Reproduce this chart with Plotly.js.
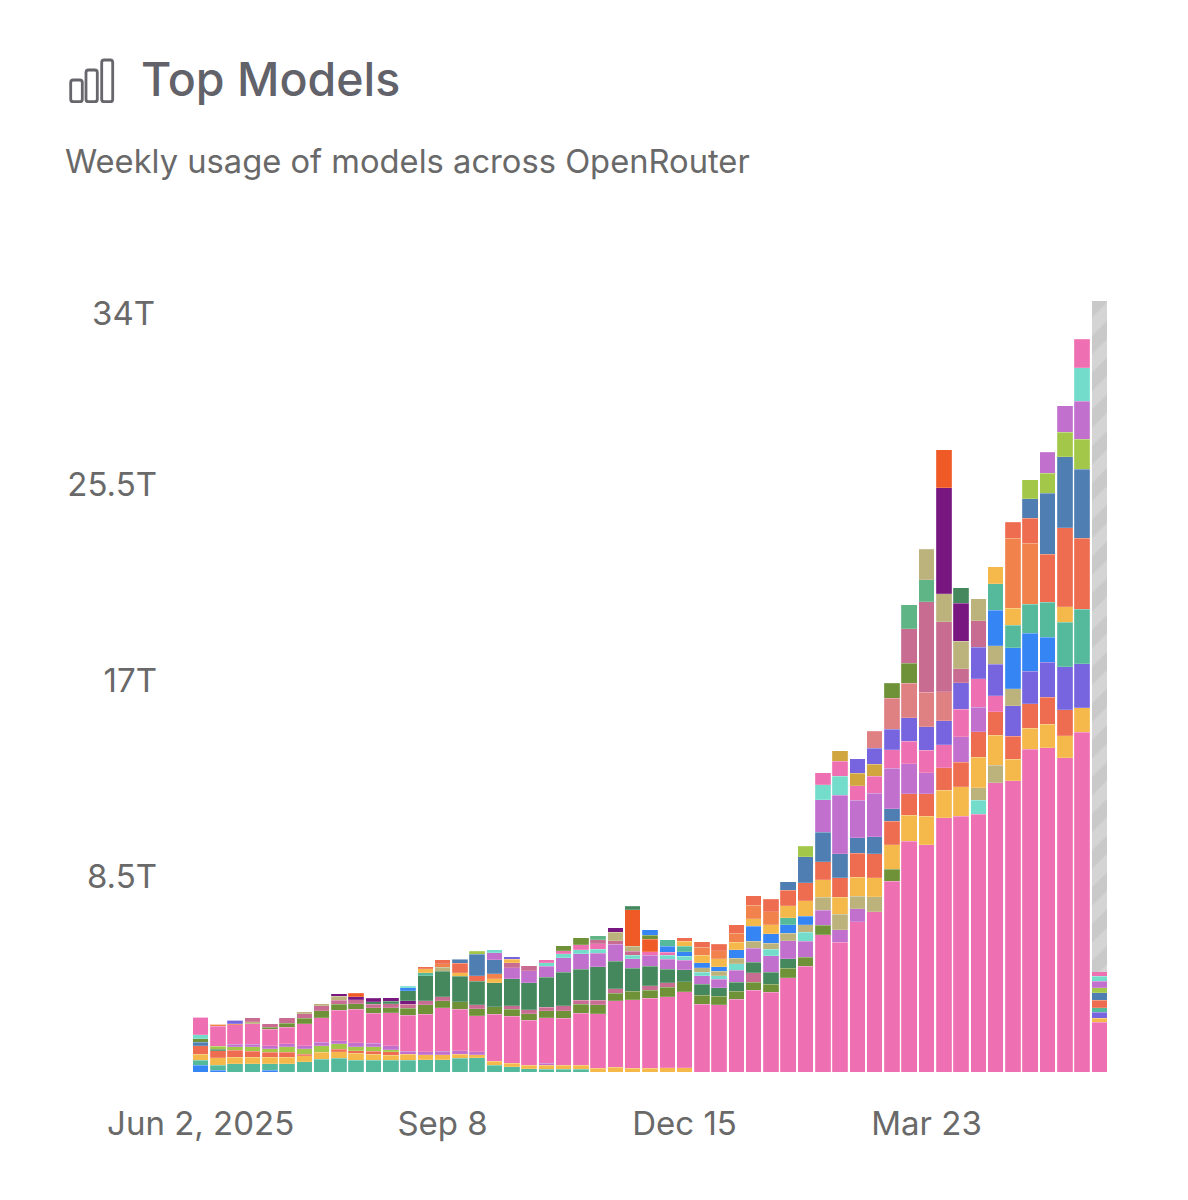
<!DOCTYPE html>
<html>
<head>
<meta charset="utf-8">
<script src="https://cdn.plot.ly/plotly-3.0.1.min.js"></script>
<style>html,body{margin:0;padding:0;background:#fff}#chart{width:1188px;height:1200px}</style>
</head>
<body>
<div id="chart"></div>
<script>
const chartTitle = "Top Models";
const chartSubtitle = "Weekly usage of models across OpenRouter";
const xTickDates = ["2025-06-02", "2025-09-08", "2025-12-15", "2026-03-23"];
const xTickLabels = ["Jun 2, 2025", "Sep 8", "Dec 15", "Mar 23"];
const yTickValues = [8.5, 17, 25.5];
const yTickLabels = ["8.5T", "17T", "25.5T"];
const yTopLabel = "34T";
const yMax = 34;

// One colour per model family, keyed by a letter
const palette = {
  P:"#EE70B2", T:"#55BA9C", Y:"#F5B94B", C:"#EE6C4F", S:"#4F7FB2", V:"#7765DF",
  O:"#C270CD", N:"#BBB27C", L:"#6F9138", G:"#46885E", M:"#C86C92", A:"#DF8083",
  I:"#74DCCB", B:"#3585F5", H:"#A3C749", R:"#F1824C", D:"#D2A63F", X:"#78177F",
  F:"#F05A26", E:"#5FB585"
};

// Weekly stacks, bottom to top: model letter, value in trillions of tokens
const w00=["B",.30,"T",.22,"Y",.25,"C",.36,"S",.16,"L",.16,"I",.16,"P",.77];
const w01=["B",.07,"T",.23,"Y",.32,"C",.30,"G",.07,"H",.13,"P",.87,"R",.09];
const w02=["T",.36,"Y",.27,"C",.32,"H",.14,"O",.12,"P",.84,"R",.04,"V",.16];
const w03=["T",.36,"Y",.27,"C",.27,"H",.19,"O",.12,"P",.88,"N",.09,"M",.17];
const w04=["B",.07,"T",.29,"Y",.29,"C",.20,"H",.17,"O",.12,"P",.72,"L",.09,"M",.14];
const w05=["T",.36,"Y",.27,"C",.23,"H",.23,"O",.14,"P",.72,"L",.17,"M",.23];
const w06=["T",.45,"Y",.26,"C",.07,"H",.22,"O",.13,"P",.96,"L",.25,"M",.20,"N",.07];
const w07=["T",.56,"Y",.29,"H",.30,"O",.14,"P",1.06,"L",.30,"M",.23,"N",.09];
const w08=["T",.59,"Y",.29,"C",.10,"H",.25,"O",.13,"P",1.32,"L",.27,"M",.17,"N",.16,"X",.12];
const w09=["T",.51,"Y",.30,"C",.12,"H",.16,"O",.19,"P",1.45,"L",.23,"M",.17,"X",.13,"F",.17];
const w10=["T",.51,"Y",.26,"C",.13,"H",.19,"O",.16,"P",1.30,"L",.23,"M",.17,"G",.09,"X",.16];
const w11=["T",.51,"Y",.22,"C",.14,"H",.10,"O",.16,"P",1.45,"L",.22,"M",.16,"G",.12,"X",.14];
const w12=["T",.52,"Y",.25,"O",.14,"P",1.55,"L",.30,"M",.19,"X",.14,"G",.43,"B",.14,"I",.06];
const w13=["T",.54,"Y",.20,"O",.14,"P",1.62,"L",.42,"M",.17,"G",1.09,"T",.13,"Y",.17,"C",.10];
const w14=["T",.54,"Y",.22,"O",.14,"P",1.88,"L",.32,"M",.16,"G",1.11,"N",.17,"R",.17,"C",.17];
const w15=["T",.59,"Y",.19,"O",.14,"P",1.81,"L",.32,"G",1.11,"Y",.14,"C",.43,"S",.16];
const w16=["T",.61,"Y",.14,"O",.14,"P",1.56,"L",.30,"M",.16,"G",1.04,"C",.23,"S",.93,"H",.14];
const w17=["T",.30,"Y",.17,"P",2.04,"L",.33,"G",1.03,"Y",.19,"R",.20,"S",.62,"O",.30,"I",.13];
const w18=["T",.23,"Y",.16,"P",2.03,"L",.30,"M",.16,"G",1.16,"O",.48,"M",.23,"Y",.14,"V",.12];
const w19=["T",.14,"Y",.16,"P",1.95,"L",.27,"M",.19,"G",1.16,"O",.52,"M",.23];
const w20=["T",.13,"Y",.17,"O",.09,"P",1.97,"L",.29,"M",.17,"G",1.29,"O",.48,"I",.16,"P",.13];
const w21=["T",.13,"Y",.16,"P",2.04,"L",.33,"M",.22,"G",1.46,"O",.62,"I",.17,"P",.14,"L",.22];
const w22=["T",.13,"Y",.16,"P",2.26,"L",.39,"M",.17,"G",1.36,"O",.67,"I",.16,"P",.22,"L",.30];
const w23=["Y",.17,"P",2.37,"L",.38,"M",.19,"G",1.45,"O",.59,"I",.19,"P",.22,"M",.19,"E",.17];
const w24=["Y",.20,"P",2.89,"L",.33,"M",.19,"G",1.20,"O",.74,"M",.14,"N",.38,"X",.20];
const w25=["Y",.16,"P",2.97,"L",.38,"G",1.00,"O",.41,"I",.16,"M",.16,"N",.23,"F",1.58,"G",.14];
const w26=["Y",.16,"P",3.04,"L",.36,"M",.19,"G",.85,"O",.46,"P",.17,"F",.54,"L",.17,"B",.23];
const w27=["Y",.19,"P",3.08,"L",.41,"M",.20,"G",.59,"O",.42,"I",.17,"P",.14,"B",.25,"T",.30];
const w28=["Y",.19,"P",3.30,"L",.43,"G",.51,"O",.42,"I",.17,"B",.20,"T",.23,"Y",.22,"C",.17];
const w29=["P",2.95,"L",.38,"G",.49,"O",.36,"I",.16,"N",.19,"B",.22,"Y",.33,"R",.33,"C",.25];
const w30=["P",2.92,"L",.36,"G",.38,"O",.36,"I",.17,"N",.19,"B",.20,"Y",.33,"R",.35,"C",.29];
const w31=["P",3.15,"L",.36,"G",.39,"O",.52,"I",.29,"N",.23,"B",.36,"Y",.33,"R",.39,"C",.38];
const w32=["P",3.55,"L",.35,"M",.41,"G",.45,"O",.62,"N",.29,"B",.65,"Y",.33,"R",.59,"C",.41];
const w33=["P",3.46,"L",.35,"G",.52,"O",.72,"I",.29,"N",.25,"B",.41,"Y",.39,"R",.56,"C",.55];
const w34=["P",4.10,"L",.41,"G",.41,"O",.77,"N",.33,"B",.38,"T",.30,"Y",.51,"C",.69,"S",.36];
const w35=["P",4.60,"L",.39,"O",.69,"I",.39,"N",.32,"B",.38,"Y",.67,"C",.77,"S",1.14,"H",.45];
const w36=["P",5.96,"L",.42,"O",.65,"N",.55,"Y",.77,"C",.78,"S",1.27,"O",1.43,"I",.65,"P",.52];
const w37=["P",5.63,"O",.54,"N",.69,"Y",.72,"C",.85,"S",1.04,"O",2.55,"I",.82,"P",.65,"D",.45];
const w38=["P",6.53,"O",.55,"N",.56,"Y",.82,"C",1.03,"S",.68,"O",1.64,"P",.61,"D",.55,"V",.64];
const w39=["P",6.95,"N",.65,"Y",.84,"C",1.03,"S",.75,"O",1.88,"P",.75,"D",.52,"V",.68,"A",.75];
const w40=["P",8.28,"L",.52,"Y",1.07,"C",1.01,"S",.55,"O",1.75,"P",.82,"V",.88,"A",1.35,"L",.65];
const w41=["P",10.01,"Y",1.14,"C",.94,"O",1.30,"P",.98,"V",1.01,"A",1.49,"L",.88,"M",1.49,"E",1.06];
const w42=["P",9.87,"Y",1.23,"C",.98,"O",.91,"P",.98,"V",1.03,"A",1.50,"M",3.92,"E",.96,"N",1.32];
const w43=["P",11.03,"Y",1.20,"C",.98,"P",1.01,"V",1.03,"A",1.26,"M",3.05,"N",1.20,"X",4.60,"F",1.65];
const w44=["P",11.11,"Y",1.27,"C",1.07,"O",1.10,"P",1.20,"V",1.16,"M",.59,"N",1.20,"X",1.65,"G",.67];
const w45=["P",11.19,"I",.62,"N",.54,"Y",1.32,"C",1.10,"O",1.06,"P",1.24,"V",1.37,"M",1.16,"N",.96];
const w46=["P",12.56,"N",.77,"Y",1.30,"C",1.01,"P",.69,"V",1.37,"N",.80,"B",1.55,"T",1.16,"Y",.72];
const w47=["P",12.65,"Y",.94,"C",.98,"V",1.33,"N",.74,"B",1.79,"T",.96,"Y",.75,"R",3.04,"C",.69];
const w48=["P",14.02,"Y",.90,"C",1.06,"V",1.43,"B",1.64,"T",1.27,"R",2.63,"C",1.10,"S",.85,"H",.82];
const w49=["P",14.08,"Y",1.03,"C",1.16,"V",1.52,"B",1.09,"T",1.52,"C",2.08,"S",2.65,"H",.87,"O",.91];
const w50=["P",13.65,"Y",.96,"C",1.11,"V",1.88,"T",1.92,"Y",.68,"C",3.44,"S",3.07,"H",1.06,"O",1.16];
const w51=["P",14.75,"Y",1.07,"V",1.90,"T",2.37,"C",3.08,"S",3.01,"H",1.29,"O",1.66,"I",1.45,"P",1.23];
const w52=["P",2.17,"Y",.17,"V",.25,"T",.20,"C",.33,"S",.32,"H",.22,"O",.27,"I",.23,"P",.20];
// The current, incomplete week is topped by a hatched remainder
const currentWeekRemainder = 29.11;

const stacks=[w00,w01,w02,w03,w04,w05,w06,w07,w08,w09,w10,w11,w12,w13,w14,w15,w16,w17,w18,w19,w20,w21,w22,w23,w24,w25,w26,w27,w28,w29,w30,w31,w32,w33,w34,w35,w36,w37,w38,w39,w40,w41,w42,w43,w44,w45,w46,w47,w48,w49,w50,w51,w52];

const weekMs = 7*864e5, startMs = Date.UTC(2025,5,2);
const weeks = stacks.map((_,i)=>new Date(startMs+i*weekMs).toISOString().slice(0,10));
const layerCount = Math.max(...stacks.map(s=>s.length/2));

const traces = [];
for (let l=0; l<layerCount; l++) {
  traces.push({
    type:"bar", x:weeks,
    y:stacks.map(s=>2*l<s.length ? s[2*l+1] : 0),
    marker:{color:stacks.map(s=>2*l<s.length ? palette[s[2*l]] : "#fff"),
            line:{color:"rgba(255,255,255,0.35)",width:0.5}},
    hoverinfo:"y", showlegend:false
  });
}
traces.push({
  type:"bar", x:[weeks[weeks.length-1]], y:[currentWeekRemainder],
  marker:{color:"#D2D2D2", line:{width:0},
          pattern:{shape:"/",bgcolor:"#D4D4D4",fgcolor:"#C9C9C9",size:26,solidity:0.5}},
  hoverinfo:"skip", showlegend:false
});

// Layout pixels of the page
const plot={l:192,r:1108,t:289,b:1072};
const fx=x=>(x-plot.l)/(plot.r-plot.l), fy=y=>(plot.b-y)/(plot.b-plot.t);
function roundedBar(x0,y0,x1,y1,r){
  const X=fx,Y=fy;
  const p=[`M${X(x0+r)},${Y(y0)}`,`L${X(x1-r)},${Y(y0)}`,`Q${X(x1)},${Y(y0)} ${X(x1)},${Y(y0+r)}`,
    `L${X(x1)},${Y(y1-r)}`,`Q${X(x1)},${Y(y1)} ${X(x1-r)},${Y(y1)}`,`L${X(x0+r)},${Y(y1)}`,
    `Q${X(x0)},${Y(y1)} ${X(x0)},${Y(y1-r)}`,`L${X(x0)},${Y(y0+r)}`,`Q${X(x0)},${Y(y0)} ${X(x0+r)},${Y(y0)}`,"Z"];
  return {type:"path",xref:"paper",yref:"paper",path:p.join(" "),line:{color:"#66666C",width:2.8},fillcolor:"rgba(0,0,0,0)"};
}

const titleColor="#62626A", textColor="#696969";
const layout={
  width:1188,height:1200,
  paper_bgcolor:"#fff",plot_bgcolor:"#fff",
  margin:{l:plot.l,r:1188-plot.r,t:plot.t,b:1200-plot.b,pad:0},
  barmode:"stack",bargap:0.1,
  title:{text:chartTitle,x:141/1188,xref:"container",xanchor:"left",y:1-80/1200,yref:"container",yanchor:"middle",
         font:{family:"Inter, sans-serif",size:46.5,weight:500,color:titleColor}},
  xaxis:{type:"date",range:[startMs-weekMs/2,startMs+(stacks.length-0.5)*weekMs],
         tickmode:"array",tickvals:xTickDates,ticktext:xTickLabels,ticks:"",showgrid:false,zeroline:false,showline:false,
         ticklabelstandoff:29,tickfont:{family:"Inter, sans-serif",size:33,color:textColor},automargin:false,tickangle:0},
  yaxis:{range:[0,yMax],tickmode:"array",tickvals:yTickValues,ticktext:yTickLabels,ticks:"",showgrid:false,zeroline:false,showline:false,
         ticklabelstandoff:34,tickfont:{family:"Inter, sans-serif",size:33,color:textColor},automargin:false},
  shapes:[roundedBar(70.7,80,82.3,101.7,2.5),roundedBar(86,70,97.3,101.7,2.5),roundedBar(101.7,60,112.7,101.7,2.5)],
  annotations:[
    {text:chartSubtitle,xref:"paper",yref:"paper",x:fx(63),y:fy(161),xanchor:"left",yanchor:"middle",showarrow:false,
     font:{family:"Inter, sans-serif",size:32.7,color:textColor}},
    {text:yTopLabel,xref:"paper",yref:"y",x:fx(157),y:yMax,yshift:-24,xanchor:"right",yanchor:"middle",showarrow:false,
     font:{family:"Inter, sans-serif",size:33,color:textColor}}
  ]
};
Plotly.newPlot("chart",traces,layout,{displayModeBar:false,staticPlot:true});
</script>
</body>
</html>
